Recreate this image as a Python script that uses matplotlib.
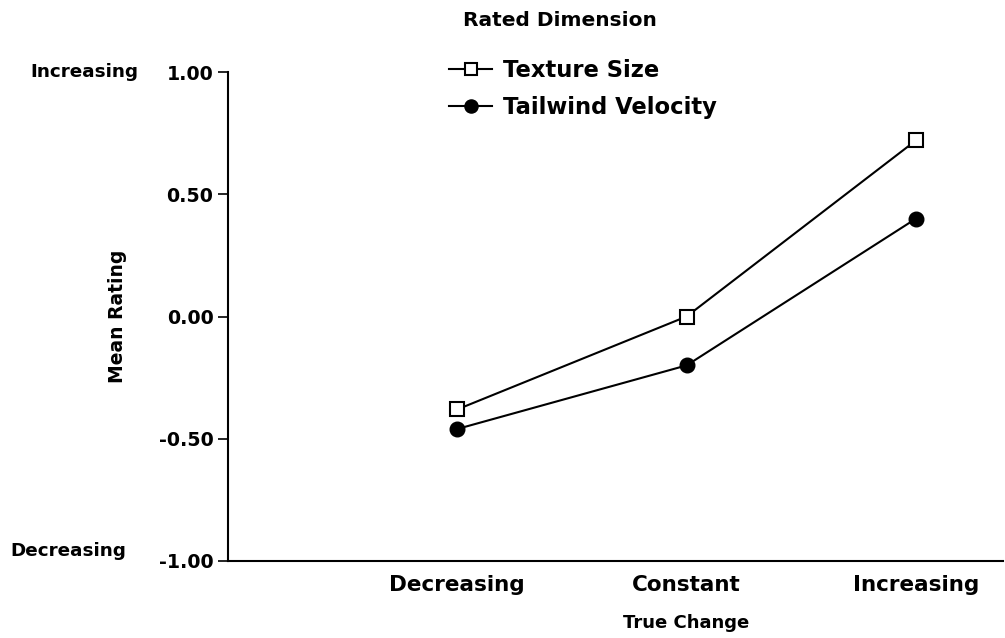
import matplotlib
matplotlib.use("Agg")
import matplotlib.pyplot as plt

categories = ["Decreasing", "Constant", "Increasing"]
texture_size = [-0.38, 0.00, 0.72]
tailwind_velocity = [-0.46, -0.20, 0.40]
ytick_vals = [-1.0, -0.5, 0.0, 0.5, 1.0]
ytick_labels = ["-1.00", "-0.50", "0.00", "0.50", "1.00"]

plt.rcParams['font.family'] = ['DejaVu Sans']
plt.rcParams['font.weight'] = 'bold'

W, H = 1005, 638
fig = plt.figure(figsize=(W / 100, H / 100), dpi=100)
ax = fig.add_axes([228 / W, 1 - 561 / H, (1003 - 228) / W, (561 - 72) / H])

x = [1, 2, 3]
ax.plot(x, texture_size, color='black', lw=1.5, marker='s', markersize=10,
        markerfacecolor='white', markeredgecolor='black', markeredgewidth=1.5,
        label='Texture Size', zorder=3)
ax.plot(x, tailwind_velocity, color='black', lw=1.5, marker='o', markersize=10.5,
        markerfacecolor='black', markeredgecolor='black',
        label='Tailwind Velocity', zorder=3)

ax.set_xlim(0.0, 3.38)
ax.set_ylim(-1.0, 1.0)
ax.set_yticks(ytick_vals)
ax.set_yticklabels(ytick_labels, fontsize=13.7, fontweight='bold')
ax.set_xticks(x)
ax.set_xticklabels(categories, fontsize=15.5, fontweight='bold')
ax.tick_params(axis='x', length=0, pad=10)
ax.tick_params(axis='y', length=7, width=1.2, direction='out', pad=3.5)

for s in ['top', 'right']:
    ax.spines[s].set_visible(False)
for s in ['left', 'bottom']:
    ax.spines[s].set_linewidth(1.5)

ax.set_xlabel("True Change", fontsize=13, fontweight='bold')
ax.xaxis.set_label_coords((686 - 228) / 775, -(623 - 561) / 489, transform=ax.transAxes)
ax.xaxis.label.set_verticalalignment('center')
ax.set_ylabel("Mean Rating", fontsize=13.5, fontweight='bold')
ax.yaxis.set_label_coords(-(228 - 117) / 775, 0.5, transform=ax.transAxes)
ax.yaxis.label.set_verticalalignment('center')

fig.text(84 / W, 1 - 72 / H, "Increasing", ha='center', va='center',
         fontsize=13.2, fontweight='bold')
fig.text(68 / W, 1 - 551 / H, "Decreasing", ha='center', va='center',
         fontsize=13.2, fontweight='bold')

fig.text(463 / W, 1 - 20 / H, "Rated Dimension", ha='left', va='center',
         fontsize=14.5, fontweight='bold')

leg = ax.legend(loc='upper left', bbox_to_anchor=(429 / W, 1 - 39 / H),
                bbox_transform=fig.transFigure, frameon=False,
                fontsize=16.3, handlelength=1.9, handletextpad=0.45,
                labelspacing=0.6, markerscale=0.9)
for t in leg.get_texts():
    t.set_fontweight('bold')

fig.savefig("out.png", dpi=100)
